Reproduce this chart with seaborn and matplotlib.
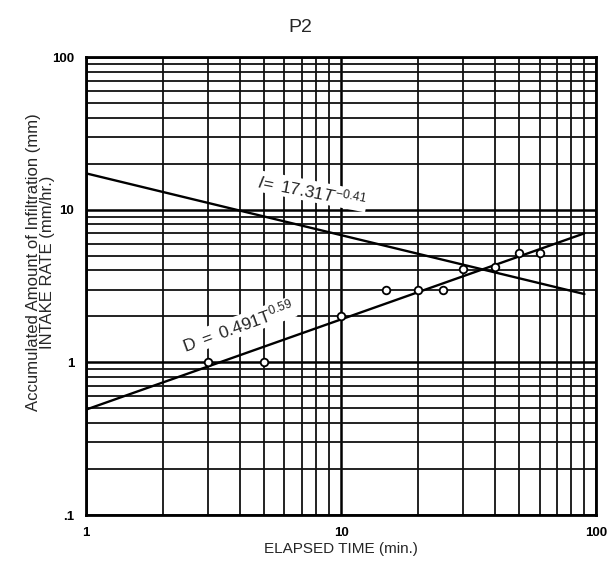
import matplotlib
matplotlib.use("Agg")
import matplotlib.pyplot as plt
import seaborn as sns
import pandas as pd
from matplotlib.ticker import LogLocator, FixedLocator, FixedFormatter, NullFormatter

# ---- data ----
time_obs = [3, 5, 10, 15, 20, 25, 30, 40, 50, 60]
cum_infil = [1.0, 1.0, 2.0, 3.0, 3.0, 3.0, 4.1, 4.2, 5.2, 5.2]

intake_T = [1, 90]
intake_vals = [17.3, 2.8]
cum_T = [1, 90]
cum_vals = [0.49, 7.0]

x_ticks = [1, 10, 100]
x_ticklabels = ["1", "10", "100"]
y_ticks = [0.1, 1, 10, 100]
y_ticklabels = [".1", "1", "10", "100"]

sns.set_style("white")
plt.rcParams["font.family"] = ["Liberation Sans", "DejaVu Sans"]
plt.rcParams["mathtext.fontset"] = "custom"
plt.rcParams["mathtext.rm"] = "Liberation Sans"
plt.rcParams["mathtext.it"] = "Liberation Sans:italic"
plt.rcParams["mathtext.bf"] = "Liberation Sans:bold"

fig = plt.figure(figsize=(6.12, 5.73), dpi=100)
ax = fig.add_axes([0.1405, 0.1012, 0.8335, 0.7993])
ax.set_xscale("log")
ax.set_yscale("log")
ax.set_xlim(1, 100)
ax.set_ylim(0.1, 100)

# grid
ax.xaxis.set_major_locator(FixedLocator(x_ticks))
ax.xaxis.set_major_formatter(FixedFormatter(x_ticklabels))
ax.xaxis.set_minor_locator(LogLocator(base=10, subs=range(2, 10)))
ax.xaxis.set_minor_formatter(NullFormatter())
ax.yaxis.set_major_locator(FixedLocator(y_ticks))
ax.yaxis.set_major_formatter(FixedFormatter(y_ticklabels))
ax.yaxis.set_minor_locator(LogLocator(base=10, subs=range(2, 10)))
ax.yaxis.set_minor_formatter(NullFormatter())
ax.grid(True, which="major", color="black", linewidth=1.8)
ax.grid(True, which="minor", color="#111111", linewidth=1.3)
ax.set_axisbelow(True)

ax.tick_params(which="major", direction="out", length=5, width=1.5, labelsize=9.5, colors="black")
ax.tick_params(which="minor", direction="inout", length=5, width=1.2)
for lab in ax.get_xticklabels() + ax.get_yticklabels():
    lab.set_fontweight("bold")
for s in ax.spines.values():
    s.set_color("black")
    s.set_linewidth(2)

df_i = pd.DataFrame({"T": intake_T, "v": intake_vals})
df_d = pd.DataFrame({"T": cum_T, "v": cum_vals})
sns.lineplot(data=df_i, x="T", y="v", ax=ax, color="black", linewidth=1.7)
sns.lineplot(data=df_d, x="T", y="v", ax=ax, color="black", linewidth=1.7)

df_o = pd.DataFrame({"T": time_obs, "D": cum_infil})
sns.scatterplot(data=df_o, x="T", y="D", ax=ax, s=30, facecolor="white",
                edgecolor="black", linewidth=1.3, zorder=5)

ax.text(7.7, 13.2, r"$\mathit{I\!=\ 17.31T}^{\mathit{-0.41}}$", fontsize=12.5, rotation=-11,
        ha="center", va="center", zorder=6,
        bbox=dict(facecolor="white", edgecolor="none", pad=0.5))
ax.text(3.95, 1.72, r"$\mathrm{D\ =\ 0.491T}^{\mathrm{0.59}}$", fontsize=12.5, rotation=20,
        ha="center", va="center", zorder=6,
        bbox=dict(facecolor="white", edgecolor="none", pad=0.5))

ax.set_xlabel("ELAPSED TIME (min.)", fontsize=11, labelpad=2)
ax.set_ylabel("Accumulated Amount of Infiltration (mm)\nINTAKE RATE (mm/hr.)",
              fontsize=12, linespacing=0.9)
ax.yaxis.set_label_coords(-0.061, 0.552)
fig.text(0.49, 0.952, "P2", fontsize=14, ha="center", va="center")

fig.savefig("out.png", dpi=100)
